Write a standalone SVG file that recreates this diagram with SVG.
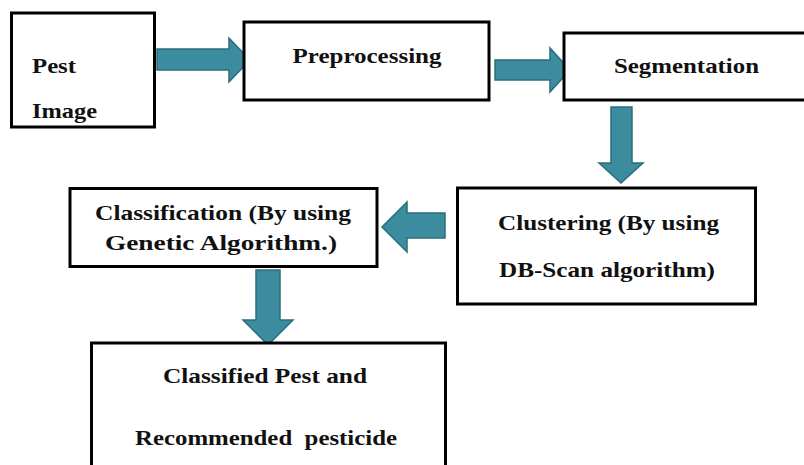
<svg xmlns="http://www.w3.org/2000/svg" width="804" height="465" viewBox="0 0 804 465">
<style>
.box{fill:#fff;stroke:#000;stroke-width:3}
.t{font-family:'Liberation Serif','DejaVu Serif Condensed','DejaVu Serif',serif;font-stretch:condensed;font-weight:700;font-size:22px;fill:#111}
.m{text-anchor:middle}
.arr{fill:#3a8c9e;stroke:#2b6d7c;stroke-width:1.5;stroke-linejoin:miter}
</style>
<rect width="804" height="465" fill="#fff"/>
<g id="connectors">
<polygon class="arr" points="157,49 229,49 229,38 250,60 229,82 229,70 157,70"/>
<polygon class="arr" points="495,60 550,60 550,48 570,70 550,92 550,80 495,80"/>
<polygon class="arr" points="611,107 632,107 632,163 643,163 621,183 599,163 611,163"/>
<polygon class="arr" points="445,213 407,213 407,202 382,227 407,252 407,238 445,238"/>
<polygon class="arr" points="256,270 280,270 280,320 293,320 268,345 243,320 256,320"/>
</g>
<g id="pest-image">
<rect class="box" x="11.5" y="13" width="143" height="114"/>
<text class="t" x="32" y="73" textLength="44" lengthAdjust="spacingAndGlyphs">Pest</text>
<text class="t" x="32" y="118" textLength="65" lengthAdjust="spacingAndGlyphs">Image</text>
</g>
<g id="preprocessing">
<rect class="box" x="244" y="22" width="245" height="78"/>
<text class="t m" x="367" y="63" textLength="149" lengthAdjust="spacingAndGlyphs">Preprocessing</text>
</g>
<g id="segmentation">
<rect class="box" x="564" y="33" width="260" height="67"/>
<text class="t m" x="686.5" y="73" textLength="145" lengthAdjust="spacingAndGlyphs">Segmentation</text>
</g>
<g id="clustering">
<rect class="box" x="457.5" y="188" width="298" height="116"/>
<text class="t m" x="608.5" y="230" textLength="221" lengthAdjust="spacingAndGlyphs">Clustering (By using</text>
<text class="t m" x="607" y="277" textLength="216" lengthAdjust="spacingAndGlyphs">DB-Scan algorithm)</text>
</g>
<g id="classification">
<rect class="box" x="70" y="188.5" width="307" height="78"/>
<text class="t m" x="223" y="220" textLength="256" lengthAdjust="spacingAndGlyphs">Classification (By using</text>
<text class="t m" x="221" y="250" textLength="232" lengthAdjust="spacingAndGlyphs">Genetic Algorithm.)</text>
</g>
<g id="classified-pest">
<rect class="box" x="91.5" y="343" width="354" height="140"/>
<text class="t m" x="265" y="383" textLength="204" lengthAdjust="spacingAndGlyphs">Classified Pest and</text>
<text class="t m" x="266" y="445" textLength="262" lengthAdjust="spacingAndGlyphs" xml:space="preserve">Recommended  pesticide</text>
</g>
</svg>
